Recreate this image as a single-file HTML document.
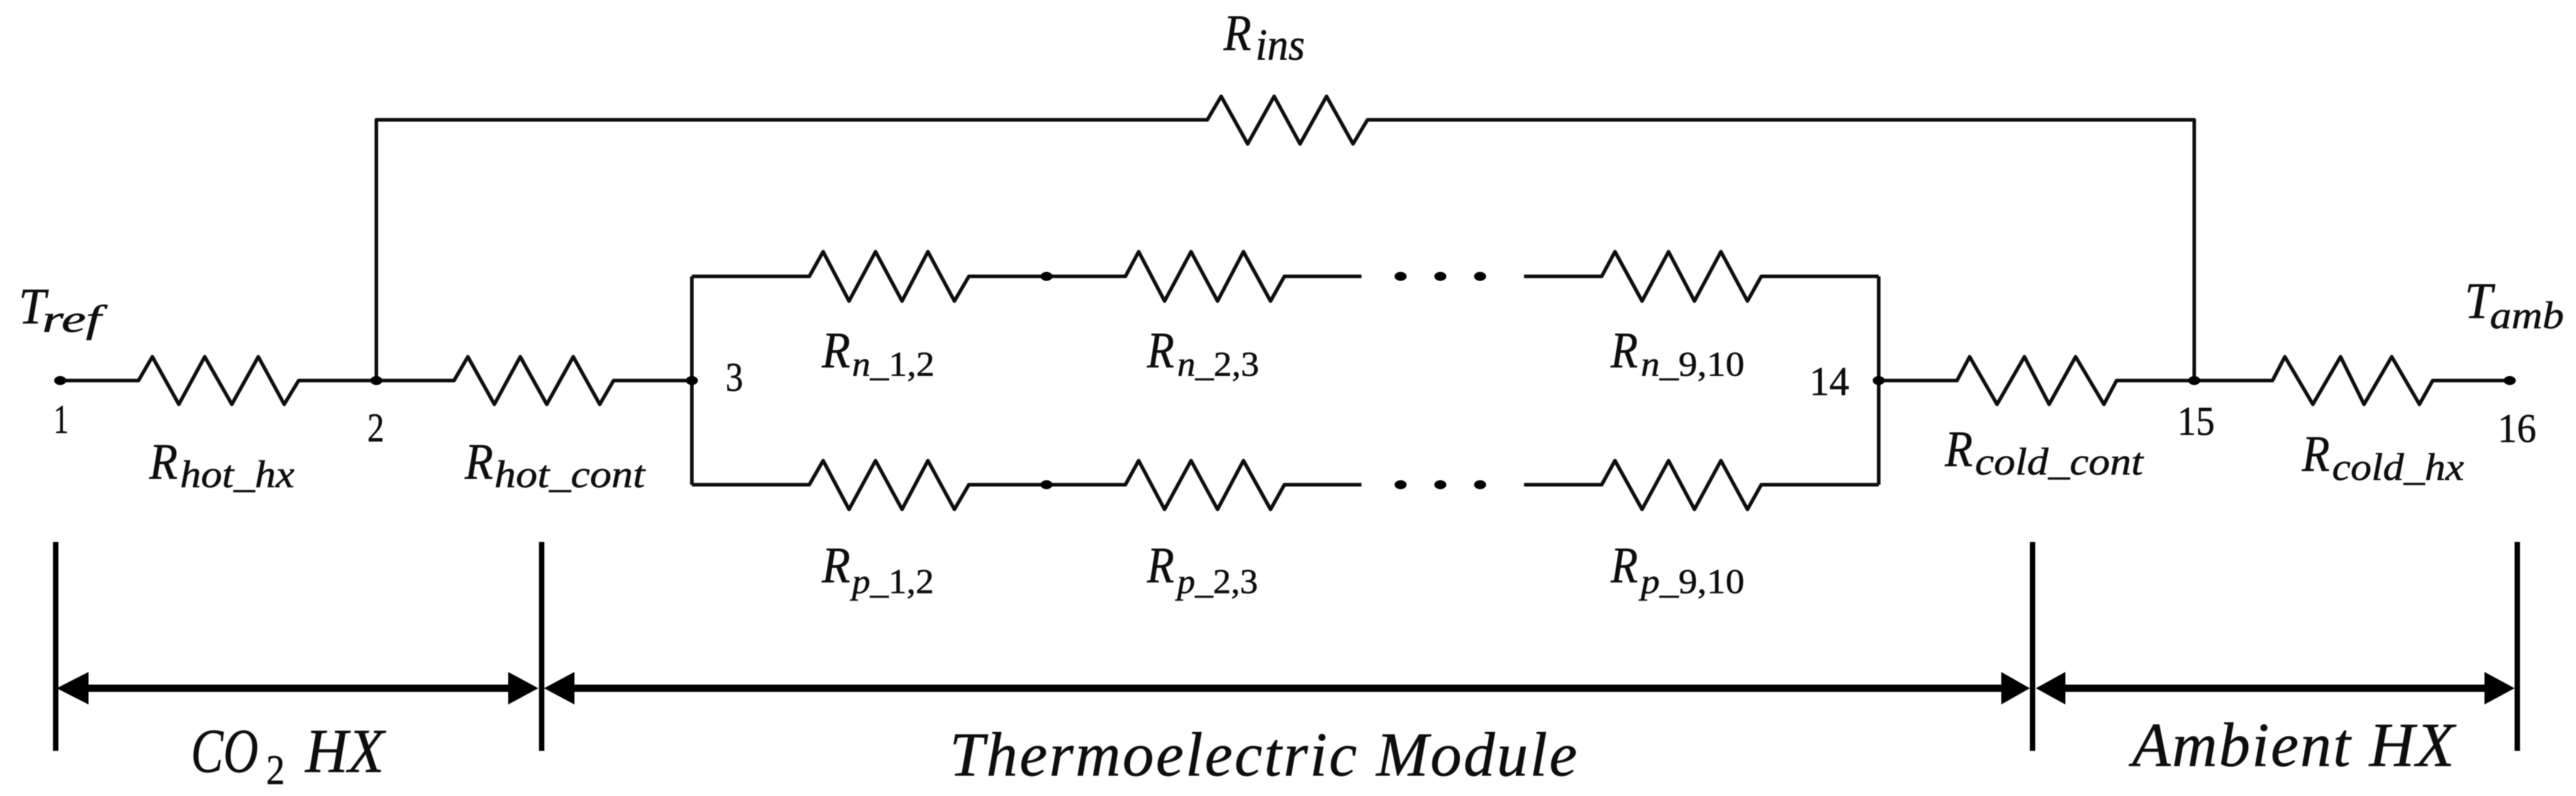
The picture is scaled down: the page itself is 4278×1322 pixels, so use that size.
<!DOCTYPE html>
<html><head><meta charset="utf-8"><style>
html,body{margin:0;padding:0;background:#fff}
svg{display:block}
text{font-family:"Liberation Serif",serif;font-style:italic;fill:#111;stroke:#111;stroke-width:.7;text-rendering:geometricPrecision}
.n{font-style:normal}
.r{font-size:85px}
.s{font-size:64px}
.t{font-size:58px}
.d{font-size:68px;font-style:normal}
.b{font-size:104px}
</style></head><body>
<svg width="4278" height="1322" viewBox="0 0 4278 1322" xmlns="http://www.w3.org/2000/svg">
<defs><filter id="f" x="0" y="0" width="100%" height="100%"><feGaussianBlur stdDeviation="0.9"/></filter></defs>
<rect width="4278" height="1322" fill="#fff"/>
<g filter="url(#f)">
<g fill="none" stroke="#111" stroke-width="6" stroke-linejoin="round">
<polyline points="100,632 230,632 253,592.5 297,671.5 340,592.5 385,671.5 429,592.5 472,671.5 496,632 754,632 777,592.5 821,671.5 864,592.5 908,671.5 952,592.5 996,671.5 1019,632 1149,632"/>
<polyline points="625,632 625,199 2005,199 2028,160 2072,239 2116,160 2159,239 2203,160 2247,239 2271,199 3644,199 3644,632"/>
<polyline points="1149,459 1149,805"/>
<polyline points="3120,459 3120,805"/>
<polyline points="1149,459 1344,459 1367,418 1410,500 1454,418 1498,500 1541,418 1585,500 1609,459 1869,459 1891,418 1934,500 1978,418 2022,500 2065,418 2110,500 2133,459 2261,459"/>
<polyline points="2531,459 2660,459 2682,418 2727,500 2771,418 2814,500 2858,418 2902,500 2925,459 3120,459"/>
<polyline points="1149,805 1344,805 1367,765 1410,846 1454,765 1498,846 1541,765 1585,846 1609,805 1869,805 1891,765 1934,846 1978,765 2022,846 2065,765 2110,846 2133,805 2261,805"/>
<polyline points="2531,805 2660,805 2682,765 2727,846 2771,765 2814,846 2858,765 2902,846 2925,805 3120,805"/>
<polyline points="3120,632 3250,632 3271,592.5 3316.5,671.5 3362,592.5 3403,671.5 3447,592.5 3494,671.5 3515,632 3774,632 3794.5,592.5 3841,671.5 3887,592.5 3926,671.5 3972,592.5 4018,671.5 4040,632 4168,632"/>
</g>
<g fill="#000">
<ellipse cx="100" cy="632" rx="10" ry="7.5"/><ellipse cx="625" cy="632" rx="10" ry="7.5"/><ellipse cx="1149" cy="632" rx="10" ry="7.5"/>
<ellipse cx="3120" cy="632" rx="10" ry="7.5"/><ellipse cx="3644" cy="632" rx="10" ry="7.5"/><ellipse cx="4168" cy="632" rx="10" ry="7.5"/>
<ellipse cx="1738" cy="459" rx="10" ry="7.5"/><ellipse cx="1738" cy="805" rx="10" ry="7.5"/>
<ellipse cx="2326" cy="459" rx="10" ry="7.5"/><ellipse cx="2392" cy="459" rx="10" ry="7.5"/><ellipse cx="2458" cy="459" rx="10" ry="7.5"/>
<ellipse cx="2326" cy="805" rx="10" ry="7.5"/><ellipse cx="2392" cy="805" rx="10" ry="7.5"/><ellipse cx="2458" cy="805" rx="10" ry="7.5"/>
<rect x="88" y="900" width="9" height="347"/><rect x="895" y="900" width="9" height="347"/>
<rect x="3371" y="900" width="9" height="347"/><rect x="4176" y="900" width="9" height="347"/>
<rect x="140" y="1137" width="710" height="12"/><rect x="948" y="1137" width="2380" height="12"/><rect x="3425" y="1137" width="705" height="12"/>
<polygon points="94,1143 147,1116 147,1170"/><polygon points="894,1143 844,1116 844,1170"/>
<polygon points="903.5,1143 954,1116 954,1170"/><polygon points="3371,1143 3323.5,1116 3323.5,1170"/>
<polygon points="3381,1143 3430,1116 3430,1170"/><polygon points="4176,1143 4126,1116 4126,1170"/>
</g>

<text class="r" x="31" y="537" textLength="45" lengthAdjust="spacingAndGlyphs">T</text>
<text class="s" x="70" y="551" textLength="98" lengthAdjust="spacingAndGlyphs">ref</text>
<text class="r" x="4093" y="528" textLength="46" lengthAdjust="spacingAndGlyphs">T</text>
<text class="s" x="4135" y="545" textLength="123" lengthAdjust="spacingAndGlyphs">amb</text>

<text class="d" x="89" y="719" textLength="25" lengthAdjust="spacingAndGlyphs">1</text>
<text class="d" x="610" y="733" textLength="28" lengthAdjust="spacingAndGlyphs">2</text>
<text class="d" x="1205" y="649" textLength="29" lengthAdjust="spacingAndGlyphs">3</text>
<text class="d" x="3005" y="656" textLength="66" lengthAdjust="spacingAndGlyphs">14</text>
<text class="d" x="3616" y="722" textLength="62" lengthAdjust="spacingAndGlyphs">15</text>
<text class="d" x="4148" y="734" textLength="64" lengthAdjust="spacingAndGlyphs">16</text>

<text class="r" x="248" y="795" textLength="47" lengthAdjust="spacingAndGlyphs">R</text>
<text class="s" x="299" y="809" textLength="190" lengthAdjust="spacingAndGlyphs">hot_hx</text>
<text class="r" x="772" y="795" textLength="47" lengthAdjust="spacingAndGlyphs">R</text>
<text class="s" x="821" y="809" textLength="250" lengthAdjust="spacingAndGlyphs">hot_cont</text>
<text class="r" x="2032" y="83" textLength="46" lengthAdjust="spacingAndGlyphs">R</text>
<text x="2085" y="99" font-size="74" textLength="82" lengthAdjust="spacingAndGlyphs">ins</text>

<text class="r" x="1365" y="610" textLength="47" lengthAdjust="spacingAndGlyphs">R</text>
<text class="t" x="1415" y="624" textLength="137" lengthAdjust="spacingAndGlyphs">n<tspan class="n">_1,2</tspan></text>
<text class="r" x="1905" y="610" textLength="45" lengthAdjust="spacingAndGlyphs">R</text>
<text class="t" x="1955" y="624" textLength="136" lengthAdjust="spacingAndGlyphs">n<tspan class="n">_2,3</tspan></text>
<text class="r" x="2675" y="610" textLength="45" lengthAdjust="spacingAndGlyphs">R</text>
<text class="t" x="2725" y="624" textLength="172" lengthAdjust="spacingAndGlyphs">n<tspan class="n">_9,10</tspan></text>

<text class="r" x="1365" y="967" textLength="47" lengthAdjust="spacingAndGlyphs">R</text>
<text class="t" x="1415" y="985" textLength="136" lengthAdjust="spacingAndGlyphs">p<tspan class="n">_1,2</tspan></text>
<text class="r" x="1905" y="967" textLength="45" lengthAdjust="spacingAndGlyphs">R</text>
<text class="t" x="1955" y="985" textLength="134" lengthAdjust="spacingAndGlyphs">p<tspan class="n">_2,3</tspan></text>
<text class="r" x="2675" y="967" textLength="45" lengthAdjust="spacingAndGlyphs">R</text>
<text class="t" x="2725" y="985" textLength="172" lengthAdjust="spacingAndGlyphs">p<tspan class="n">_9,10</tspan></text>

<text class="r" x="3230" y="774" textLength="46" lengthAdjust="spacingAndGlyphs">R</text>
<text class="s" x="3280" y="788" textLength="279" lengthAdjust="spacingAndGlyphs">cold_cont</text>
<text class="r" x="3823" y="782" textLength="46" lengthAdjust="spacingAndGlyphs">R</text>
<text class="s" x="3873" y="797" textLength="219" lengthAdjust="spacingAndGlyphs">cold_hx</text>

<text class="b" x="317" y="1282" textLength="112" lengthAdjust="spacingAndGlyphs">CO</text>
<text class="n" x="442" y="1302" font-size="70" textLength="31" lengthAdjust="spacingAndGlyphs">2</text>
<text class="b" x="507" y="1282" textLength="131" lengthAdjust="spacingAndGlyphs">HX</text>
<text class="b" x="1577" y="1288" textLength="1042" lengthAdjust="spacing">Thermoelectric Module</text>
<text class="b" x="3541" y="1272" textLength="535" lengthAdjust="spacing">Ambient HX</text>
</g>
</svg>
</body></html>
